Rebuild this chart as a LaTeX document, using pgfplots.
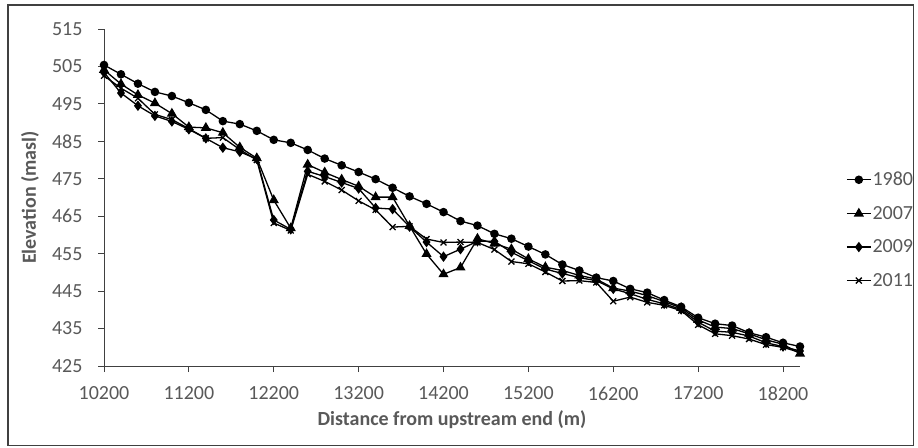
\documentclass[border=0pt]{standalone}
\usepackage{pgfplots}
\usepackage{pgfplotstable}
\pgfplotsset{compat=1.18}
\usepackage{fontspec}
\setmainfont{Carlito}
\definecolor{lblgray}{HTML}{595959}
\definecolor{axgray}{HTML}{404040}

\pgfplotstableread{
x y1980 y2007 y2009 y2011
10200 505.4 504.1 503.4 502.5
10400 502.9 500.3 497.9 499.2
10600 500.4 497.4 494.5 496.5
10800 498.2 495.2 491.8 492.2
11000 497.1 492.4 490.3 490.8
11200 495.3 488.8 488.2 488.4
11400 493.4 488.6 485.8 485.8
11600 490.4 487.3 483.3 486.0
11800 489.6 483.4 482.2 482.8
12000 487.8 480.5 480.3 480.0
12200 485.4 469.3 464.0 463.2
12400 484.6 461.8 461.5 461.2
12600 482.7 478.8 477.0 476.2
12800 480.4 476.7 475.6 474.3
13000 478.6 474.8 474.0 472.0
13200 476.8 473.0 472.4 469.1
13400 474.9 470.1 467.2 466.7
13600 472.6 470.1 466.9 462.1
13800 470.3 462.4 462.2 462.3
14000 468.3 454.9 458.1 458.9
14200 466.1 449.5 454.2 458.0
14400 463.7 451.3 456.2 458.1
14600 462.5 459.0 458.3 458.0
14800 460.3 457.7 458.3 456.1
15000 459.0 456.2 455.4 452.9
15200 456.9 453.6 453.1 452.3
15400 454.8 451.4 450.9 450.1
15600 452.1 450.5 449.7 447.7
15800 450.5 449.2 448.6 447.8
16000 448.6 448.2 447.8 447.3
16200 447.7 445.8 445.6 442.3
16400 445.6 445.0 444.3 443.4
16600 444.6 443.8 442.8 442.0
16800 442.6 442.2 441.6 441.2
17000 440.8 440.5 440.1 439.8
17200 437.9 437.3 436.7 436.0
17400 436.3 435.4 434.3 433.6
17600 435.8 435.0 434.0 433.1
17800 433.9 433.6 433.0 432.2
18000 432.7 432.0 431.2 430.7
18200 431.2 430.8 430.2 430.0
18400 430.2 428.3 429.0 428.6
}\elev

\begin{document}
\begin{tikzpicture}
\useasboundingbox (0,0) rectangle (918pt,447pt);
\fill[white] (0,0) rectangle (918pt,447pt);
\draw[line width=1.3pt, axgray] (8pt,1.5pt) rectangle (913.5pt,442pt);
\begin{axis}[
  at={(104pt,81pt)}, anchor=south west,
  scale only axis, width=696pt, height=337pt,
  xmin=10200, xmax=18400, ymin=425, ymax=515,
  axis x line*=bottom, axis y line*=left,
  axis line style={axgray, line width=1pt},
  tick align=outside, major tick length=6pt,
  tick style={axgray, line width=1pt},
  xtick={10200,11200,...,18200},
  ytick={425,435,...,515},
  scaled ticks=false,
  /pgf/number format/.cd, 1000 sep={}, assume math mode=true, /pgfplots/.cd,
  tick label style={font=\fontsize{20}{24}\selectfont, text=lblgray},
  yticklabel style={xshift=-12pt},
  xticklabel style={yshift=-11pt},
  xlabel={\textbf{Distance from upstream end (m)}},
  ylabel={\textbf{Elevation (masl)}},
  label style={font=\fontsize{20}{24}\selectfont, text=lblgray},
  xlabel style={at={(axis description cs:0.5,0)}, anchor=center, yshift=-54pt},
  ylabel style={at={(axis description cs:-0.1063,0.5)}, anchor=center},
  legend style={at={(axis description cs:1,0.4036)}, anchor=west, xshift=46pt,
    draw=none, fill=none, inner sep=0pt, row sep=17pt,
    font=\fontsize{20}{24}\selectfont, text=lblgray,
    nodes={inner sep=1pt}},
  legend cell align=left,
  legend image code/.code={\draw[mark repeat=2, mark phase=2] plot coordinates {(0pt,0pt) (12pt,0pt) (24pt,0pt)};},
  every axis plot/.append style={black, line width=1.3pt},
]
\addplot[mark=*, mark size=3.6pt] table[x=x, y=y1980] {\elev};
\addplot[mark=triangle*, mark size=4.6pt] table[x=x, y=y2007] {\elev};
\addplot[mark=diamond*, mark size=4.2pt] table[x=x, y=y2009] {\elev};
\addplot[mark=x, mark size=4.2pt] table[x=x, y=y2011] {\elev};
\legend{1980,2007,2009,2011}
\end{axis}
\end{tikzpicture}
\end{document}
